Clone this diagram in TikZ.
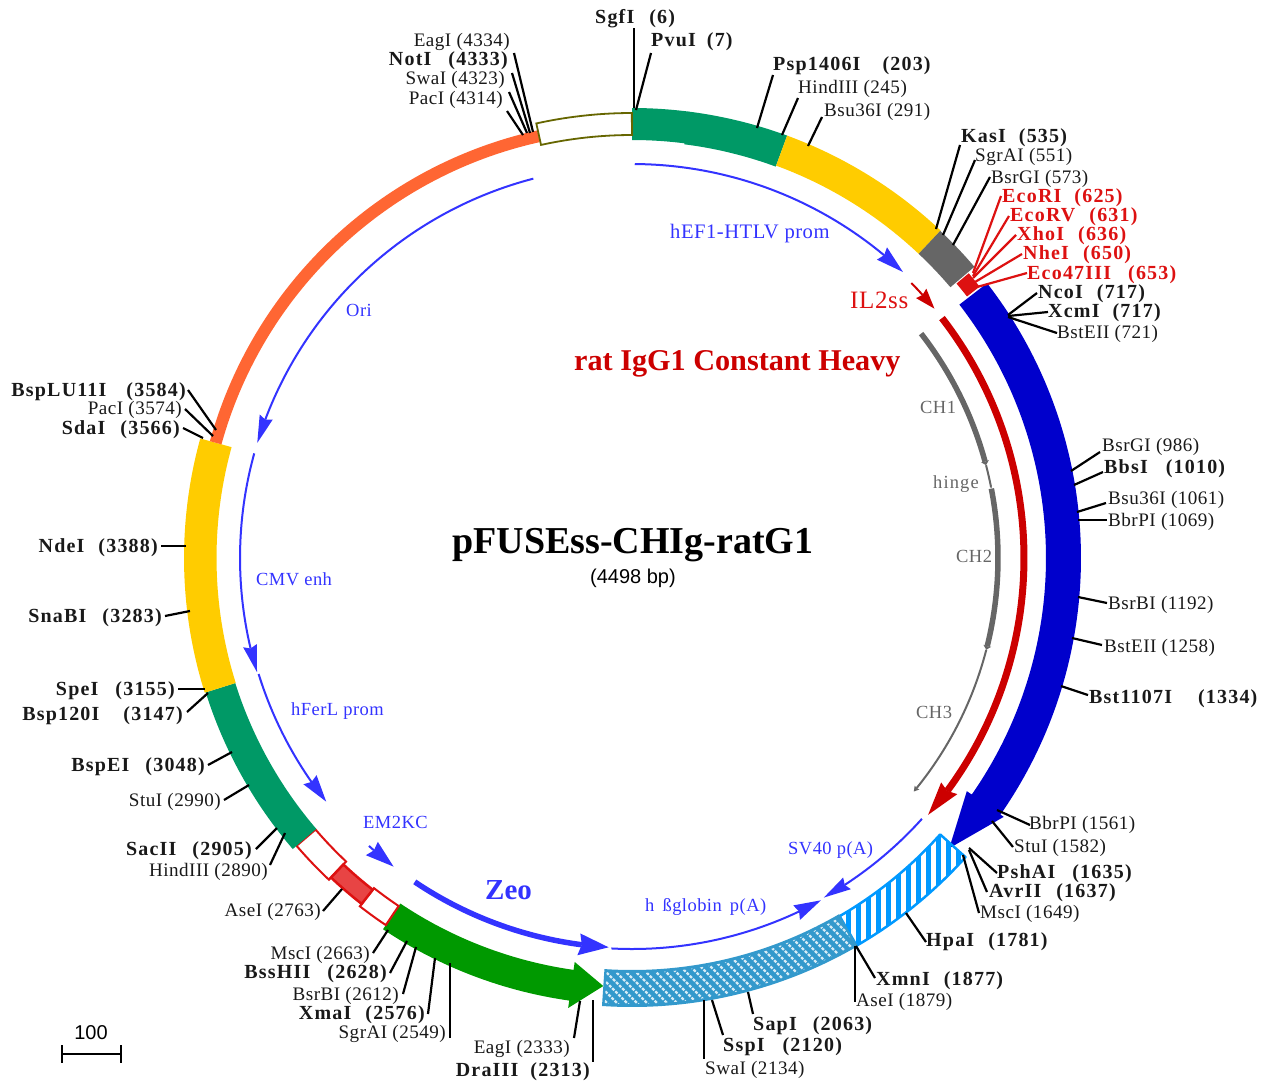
\documentclass[tikz,border=0pt]{standalone}
\usepackage{fontspec}
\setmainfont{Liberation Serif}
\setsansfont{Liberation Sans}
\newfontfamily\lab[LetterSpace=2.5]{Liberation Serif}
\newfontfamily\labb[LetterSpace=6]{Liberation Serif}
\definecolor{cteal}{HTML}{009966}
\definecolor{cyel}{HTML}{FFCC00}
\definecolor{cgray}{HTML}{666666}
\definecolor{cred}{HTML}{CC0000}
\definecolor{cblue}{HTML}{0000CC}
\definecolor{clight}{HTML}{0099FF}
\definecolor{chatch}{HTML}{3399CC}
\definecolor{cgreen}{HTML}{009900}
\definecolor{corange}{HTML}{FF6633}
\definecolor{colive}{HTML}{666600}
\definecolor{cfeat}{HTML}{3333FF}
\definecolor{clab}{HTML}{DD1111}
\definecolor{cpink}{HTML}{E84444}
\tikzset{
  sitelab/.style={inner sep=0pt,yshift=-2pt,font=\lab\fontsize{19.1}{20}\selectfont,text=black!90},
  redlab/.style={sitelab,yshift=2pt,text=clab},
  ticktick/.style={line width=2.2pt,black},
  redtick/.style={line width=2.2pt,clab},
  featlab/.style={inner sep=0pt,yshift=-1pt,font=\lab\fontsize{18.5}{20}\selectfont,text=cfeat},
  graylab/.style={inner sep=0pt,font=\lab\fontsize{18.5}{20}\selectfont,text=cgray},
}
\newcommand\bp[3][18pt]{{\labb\bfseries\fontsize{20}{20}\selectfont #2\hspace{#1}(#3)}}
% ring segment: [options]{pos a}{pos b}{r inner}{r outer}
\newcommand\rseg[5][]{%
  \pgfmathsetmacro\aA{#2*0.080036-90}%
  \pgfmathsetmacro\aB{#3*0.080036-90}%
  \path[#1] (\aA:#5) arc[start angle=\aA,end angle=\aB,radius=#5] -- (\aB:#4) arc[start angle=\aB,end angle=\aA,radius=#4] -- cycle;}
% feature arrow: {start}{end}{r}{width}{colour}{head length in pos}{half width}
\newcommand\rarrow[7]{%
  \pgfmathsetmacro\aS{#1*0.080036-90}%
  \pgfmathsetmacro\aE{#2*0.080036-90}%
  \pgfmathsetmacro\sgn{(#2>#1)?1:-1}%
  \pgfmathsetmacro\aH{(#2-\sgn*#6)*0.080036-90}%
  \pgfmathsetmacro\aN{(#2-\sgn*#6*0.9)*0.080036-90}%
  \draw[line width=#4,color=#5] (\aS:#3) arc[start angle=\aS,end angle=\aN,radius=#3];
  \fill[#5] (\aH:{#3+#7}) -- (\aE:#3) -- (\aH:{#3-#7}) -- (\aN:#3) -- cycle;}
% restriction site: [tick style]{id}{ring pt}{label-end pt}{label style}{anchor}{label pos}{text}
\newcommand\rsite[7][ticktick]{%
  \coordinate (t#2a) at (#3);
  \coordinate (t#2b) at (#4);
  \node[sitelab,#5] (l#2) at (#6) {#7};
  \draw[#1] (t#2a) -- (t#2b);}
\begin{document}
\begin{tikzpicture}[x=1pt,y=-1pt]
\useasboundingbox (0,0) rectangle (1267,1088);
\begin{scope}[shift={(632,558)}]
  % outer ring
  \rseg[fill=cteal]{0}{91}{418}{450}
  \rseg[fill=cteal]{90}{252}{417}{450}
  \rseg[fill=cyel]{252}{541}{418}{450}
  \rseg[fill=cgray]{541}{620}{418}{449.5}
  \rseg[fill=clab]{622}{650}{425}{441}
  % blue arrow
  \pgfmathsetmacro\bA{653*0.080036-90}
  \pgfmathsetmacro\bB{1560*0.080036-90}
  \pgfmathsetmacro\bT{1655*0.080036-90}
  \fill[cblue] (\bA:449) arc[start angle=\bA,end angle=\bB,radius=449] -- (\bB:453) -- (\bT:430) -- (\bB:408) -- (\bB:414) arc[start angle=\bB,end angle=\bA,radius=414] -- cycle;
  % stripes
  \begin{scope}
    \rseg[clip]{1648}{1873}{414}{448}
    \foreach \k in {206,216,...,346} \draw[clight,line width=5pt] (\k,250) -- (\k,420);
  \end{scope}
  \rseg[draw=clight,line width=2.5pt,line join=round]{1648}{1873}{414}{448}
  % hatched
  \rseg[fill=chatch]{1872}{2297}{412}{449}
  \begin{scope}
    \rseg[clip]{1876}{2293}{415}{446}
    \foreach \k in {-170,-160,...,240} \draw[white!80!chatch,line width=2.2pt,dash pattern=on 3pt off 1.4pt] (\k,340) -- ({\k+120},460);
  \end{scope}
  % green arrow
  \pgfmathsetmacro\gA{2672*0.080036-90}
  \pgfmathsetmacro\gB{2350*0.080036-90}
  \pgfmathsetmacro\gT{2297*0.080036-90}
  \fill[cgreen] (\gA:447) arc[start angle=\gA,end angle=\gB,radius=447] -- (\gB:454.5) -- (\gT:429) -- (\gB:408) -- (\gB:416) arc[start angle=\gB,end angle=\gA,radius=416] -- cycle;
  % red boxes
  \rseg[draw=clab,fill=white,line width=2pt]{2672}{2724}{419}{442}
  \rseg[draw=clab,fill=white,line width=2pt]{2790}{2866}{417}{442}
  \rseg[draw=clab,fill=cpink,line width=2.5pt]{2724}{2790}{421}{439}
  % teal, yellow, orange
  \rseg[fill=cteal]{2866}{3155}{416}{447}
  \rseg[fill=cyel]{3155}{3567}{415.5}{448}
  \rseg[fill=corange]{3567}{4342}{426}{438}
  \rseg[draw=colive,fill=white,line width=1.8pt]{4343}{4498}{423}{445}
  % inner features
  \rarrow{5}{543}{394}{2pt}{cfeat}{51}{8}
  \rarrow{4316}{3587}{392}{2pt}{cfeat}{50}{7}
  \rarrow{3567}{3162}{392}{2pt}{cfeat}{50}{7}
  \rarrow{3158}{2892}{391}{2pt}{cfeat}{50}{8}
  \rarrow{2779}{2720}{390}{2pt}{cfeat}{52}{9}
  \rarrow{2672}{2292}{390}{5.5pt}{cfeat}{55}{11}
  \rarrow{2287}{1888}{391}{2pt}{cfeat}{50}{8}
  \rarrow{1649}{1881}{390}{2pt}{cfeat}{50}{7}
  \rarrow{568}{631}{392}{2pt}{cred}{37}{7}
  \rarrow{653}{1636}{392}{7pt}{cred}{62}{10}
  \rarrow{652}{941}{366}{5.5pt}{cgray}{8}{4}
  \rarrow{941}{988}{366}{2pt}{cgray}{4}{1}
  \rarrow{988}{1306}{366}{5.5pt}{cgray}{8}{4}
  \rarrow{1306}{1620}{366}{2pt}{cgray}{10}{3}
\end{scope}
% restriction sites
\rsite{sgf}{634,108}{634,28}{anchor=west}{595,17}{\bp[15pt]{SgfI}{6}}
\rsite{pvu}{636,110}{651,53}{anchor=west}{651,40}{\bp[11pt]{PvuI}{7}}
\rsite{psp}{757,128}{773,75}{anchor=west}{773,64}{\bp[22pt]{Psp1406I}{203}}
\rsite{hind}{782,135}{798,98}{anchor=west}{798,87}{HindIII (245)}
\rsite{bsu}{808,146}{822,117}{anchor=west}{824,110}{Bsu36I (291)}
\rsite{kas}{936,229}{960,145}{anchor=west}{961,136}{\bp[13pt]{KasI}{535}}
\rsite{sgr}{943,235}{975,160}{anchor=west}{975,155}{SgrAI (551)}
\rsite{bsrg}{953,245}{990,177}{anchor=west}{991,177}{BsrGI (573)}
\rsite[redtick]{eri}{973,273}{1001,196}{redlab,anchor=west}{1002,196}{\bp[13pt]{EcoRI}{625}}
\rsite[redtick]{erv}{973,276}{1009,216}{redlab,anchor=west}{1010,215}{\bp[14pt]{EcoRV}{631}}
\rsite[redtick]{xho}{973,278}{1016,235}{redlab,anchor=west}{1017,234}{\bp[14pt]{XhoI}{636}}
\rsite[redtick]{nhe}{975,282}{1022,254}{redlab,anchor=west}{1023,253}{\bp[14pt]{NheI}{650}}
\rsite[redtick]{eco}{977,287}{1027,273}{redlab,anchor=west}{1027,273}{\bp[17pt]{Eco47III}{653}}
\rsite{nco}{1008,315}{1037,293}{anchor=west}{1038,292}{\bp[14pt]{NcoI}{717}}
\rsite{xcm}{1008,316}{1048,312}{anchor=west}{1048,311}{\bp[13pt]{XcmI}{717}}
\rsite{bste}{1008,317}{1057,333}{anchor=west}{1057,332}{BstEII (721)}
\rsite{bsrgb}{1071,471}{1100,452}{anchor=west}{1102,445}{BsrGI (986)}
\rsite{bbs}{1074,485}{1103,472}{anchor=west}{1104,467}{\bp{BbsI}{1010}}
\rsite{bsub}{1077,512}{1106,503}{anchor=west}{1108,498}{Bsu36I (1061)}
\rsite{bbr}{1078,520}{1107,520}{anchor=west}{1108,520}{BbrPI (1069)}
\rsite{bsrb}{1078,597}{1107,603}{anchor=west}{1108,603}{BsrBI (1192)}
\rsite{bstb}{1072,638}{1102,645}{anchor=west}{1104,646}{BstEII (1258)}
\rsite{bst}{1061,686}{1088,695}{anchor=west}{1089,697}{\bp[26pt]{Bst1107I}{1334}}
\rsite{bbrb}{997,810}{1030,825}{anchor=west}{1029,823}{BbrPI (1561)}
\rsite{stu}{992,821}{1013,847}{anchor=west}{1014,846}{StuI (1582)}
\rsite{psh}{969,848}{997,873}{anchor=west}{997,872}{\bp[17pt]{PshAI}{1635}}
\rsite{avr}{969,850}{987,892}{anchor=west}{989,891}{\bp[15pt]{AvrII}{1637}}
\rsite{msc}{963,855}{979,913}{anchor=west}{980,912}{MscI (1649)}
\rsite{hpa}{906,913}{926,942}{anchor=west}{926,940}{\bp[14pt]{HpaI}{1781}}
\rsite{xmn}{856,946}{875,978}{anchor=west}{876,979}{\bp[14pt]{XmnI}{1877}}
\rsite{ase}{855,946}{855,1002}{anchor=west}{856,1000}{AseI (1879)}
\rsite{sap}{748,992}{753,1014}{anchor=west}{753,1024}{\bp[16pt]{SapI}{2063}}
\rsite{ssp}{712,1000}{723,1035}{anchor=west}{723,1045}{\bp{SspI}{2120}}
\rsite{swa}{704,1000}{704,1059}{anchor=west}{705,1068}{SwaI (2134)}
\rsite{eag}{580,1001}{574,1038}{anchor=east}{570,1047}{EagI (2333)}
\rsite{dra}{593,1000}{593,1062}{anchor=east}{590,1070}{\bp[12pt]{DraIII}{2313}}
\rsite{sgrb}{450,963}{450,1038}{anchor=east}{446,1032}{SgrAI (2549)}
\rsite{xma}{435,958}{428,1014}{anchor=east}{425,1013}{\bp[14pt]{XmaI}{2576}}
\rsite{bsrbb}{416,947}{403,994}{anchor=east}{399,994}{BsrBI (2612)}
\rsite{bss}{407,941}{390,973}{anchor=east}{387,972}{\bp[17pt]{BssHII}{2628}}
\rsite{mscb}{388,930}{373,953}{anchor=east}{370,953}{MscI (2663)}
\rsite{aseb}{342,889}{323,911}{anchor=east}{321,910}{AseI (2763)}
\rsite{hindb}{285,833}{270,865}{anchor=east}{268,870}{HindIII (2890)}
\rsite{sac}{277,828}{256,849}{anchor=east}{252,849}{\bp[16pt]{SacII}{2905}}
\rsite{stub}{249,785}{224,800}{anchor=east}{221,800}{StuI (2990)}
\rsite{bspe}{232,752}{208,765}{anchor=east}{205,765}{\bp[16pt]{BspEI}{3048}}
\rsite{bspo}{208,693}{187,712}{anchor=east}{183,714}{\bp[24pt]{Bsp120I}{3147}}
\rsite{spe}{205,689}{178,689}{anchor=east}{175,689}{\bp[17pt]{SpeI}{3155}}
\rsite{sna}{190,611}{165,616}{anchor=east}{162,616}{\bp[16pt]{SnaBI}{3283}}
\rsite{nde}{186,546}{161,546}{anchor=east}{158,546}{\bp[14pt]{NdeI}{3388}}
\rsite{sda}{203,438}{183,428}{anchor=east}{180,428}{\bp[15pt]{SdaI}{3566}}
\rsite{pacb}{213,436}{185,409}{anchor=east}{182,408}{PacI (3574)}
\rsite{bspl}{216,430}{188,390}{anchor=east}{186,390}{\bp[20pt]{BspLU11I}{3584}}
\rsite{pac}{523,135}{507,111}{anchor=east}{503,98}{PacI (4314)}
\rsite{swab}{527,133}{509,92}{anchor=east}{505,78}{SwaI (4323)}
\rsite{not}{530,133}{512,73}{anchor=east}{508,59}{\bp[17pt]{NotI}{4333}}
\rsite{eagb}{533,132}{514,53}{anchor=east}{510,40}{EagI (4334)}
% feature labels
\node[featlab,anchor=west,font=\lab\fontsize{20.6}{22}\selectfont] (f1) at (670,233) {hEF1-HTLV prom};
\node[featlab,anchor=west] (f2) at (346,309) {Ori};
\node[featlab,anchor=west] (f3) at (256,578) {CMV enh};
\node[featlab,anchor=west] (f4) at (291,710) {hFerL prom};
\node[featlab,anchor=west] (f5) at (363,821) {EM2KC};
\node[featlab,anchor=west] (f6) at (788,849) {SV40 p(A)};
\node[featlab,anchor=west] (f7) at (645,906) {h \hspace{3pt}ßglobin\hspace{3pt} p(A)};
\node[inner sep=0pt,anchor=west,text=cfeat,font=\bfseries\fontsize{29}{30}\selectfont] (f8) at (485,890) {Zeo};
\node[inner sep=0pt,anchor=west,text=clab,font=\lab\fontsize{25}{26}\selectfont] (f9) at (850,300) {IL2ss};
\node[inner sep=0pt,anchor=west,text=cred,font=\bfseries\fontsize{30.2}{32}\selectfont] (f10) at (574,364) {rat IgG1 Constant Heavy};
\node[graylab,anchor=west] (g1) at (920,407) {CH1};
\node[graylab,anchor=west,font=\labb\fontsize{18.5}{20}\selectfont] (g2) at (933,484) {hinge};
\node[graylab,anchor=west] (g3) at (956,556) {CH2};
\node[graylab,anchor=west] (g4) at (916,712) {CH3};
% title
\node[inner sep=0pt,anchor=center,font=\bfseries\fontsize{38}{40}\selectfont] (title) at (633,545) {pFUSEss-CHIg-ratG1};
\node[inner sep=0pt,anchor=center,font=\sffamily\fontsize{20}{22}\selectfont] (size) at (633,578) {(4498 bp)};
% scale bar
\node[inner sep=0pt,anchor=center,font=\sffamily\fontsize{20}{22}\selectfont] (scale) at (91,1033) {100};
\coordinate (sa) at (62,1054);
\coordinate (sb) at (121,1054);
\draw[line width=2pt] (sa) -- (sb);
\draw[line width=2pt] ([yshift=9pt]sa) -- ([yshift=-9pt]sa);
\draw[line width=2pt] ([yshift=9pt]sb) -- ([yshift=-9pt]sb);
\end{tikzpicture}
\end{document}
